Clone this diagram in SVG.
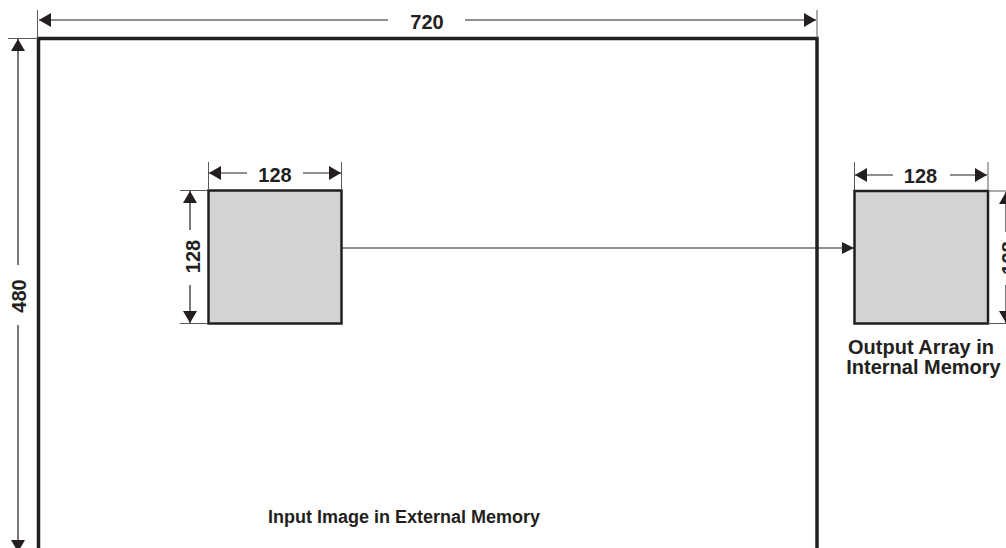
<svg xmlns="http://www.w3.org/2000/svg" width="1006" height="548" viewBox="0 0 1006 548">
<style>
.t{font-family:"Liberation Sans",Arial,sans-serif;font-weight:bold;font-size:20px;fill:#231f20}
.dim{stroke:#231f20;stroke-width:1.2;fill:none}
.ext{stroke:#58595b;stroke-width:1;fill:none}
.ah{fill:#231f20}
.box{fill:#d1d3d4;stroke:#231f20;stroke-width:2.5}
</style>
<defs>
<marker id="dimA" viewBox="0 0 12 14" refX="12" refY="7" markerWidth="12" markerHeight="14" markerUnits="userSpaceOnUse" orient="auto"><path d="M0,0 L12,7 L0,14 Z" class="ah"/></marker>
<marker id="conA" viewBox="0 0 12 12" refX="12" refY="6" markerWidth="12" markerHeight="12" markerUnits="userSpaceOnUse" orient="auto"><path d="M0,0 L12,6 L0,12 Z" class="ah"/></marker>
</defs>
<g id="input-image">
<rect x="38.5" y="38.5" width="778.5" height="530" fill="#fff" stroke="#231f20" stroke-width="3.5"/>
<text class="t" x="268" y="523" style="font-size:18px">Input Image in External Memory</text>
</g>
<g id="dim-720">
<line class="ext" x1="37.5" y1="10" x2="37.5" y2="38"/>
<line class="ext" x1="817" y1="10" x2="817" y2="38"/>
<line class="dim" x1="388" y1="20" x2="39" y2="20" marker-end="url(#dimA)"/>
<line class="dim" x1="465" y1="20" x2="816" y2="20" marker-end="url(#dimA)"/>
<text class="t" x="427" y="28.5" text-anchor="middle">720</text>
</g>
<g id="dim-480">
<line class="ext" x1="8" y1="38.5" x2="38" y2="38.5"/>
<line class="dim" x1="18" y1="265" x2="18" y2="39" marker-end="url(#dimA)"/>
<line class="dim" x1="18" y1="325" x2="18" y2="552" marker-end="url(#dimA)"/>
<text class="t" transform="translate(25.5,296) rotate(-90)" text-anchor="middle">480</text>
</g>
<g id="input-block">
<rect class="box" x="208.5" y="190.5" width="133" height="133"/>
<line class="ext" x1="208.5" y1="162" x2="208.5" y2="190"/>
<line class="ext" x1="341.5" y1="162" x2="341.5" y2="190"/>
<line class="dim" x1="247" y1="173" x2="209" y2="173" marker-end="url(#dimA)"/>
<line class="dim" x1="303" y1="173" x2="341" y2="173" marker-end="url(#dimA)"/>
<text class="t" x="275" y="181.5" text-anchor="middle">128</text>
<line class="ext" x1="180" y1="190.5" x2="208" y2="190.5"/>
<line class="ext" x1="180" y1="323.5" x2="208" y2="323.5"/>
<line class="dim" x1="190" y1="230" x2="190" y2="191" marker-end="url(#dimA)"/>
<line class="dim" x1="190" y1="285" x2="190" y2="323" marker-end="url(#dimA)"/>
<text class="t" transform="translate(200,256.5) rotate(-90)" text-anchor="middle">128</text>
</g>
<g id="output-array">
<rect class="box" x="854.5" y="191" width="133.5" height="132.5"/>
<line class="ext" x1="854.5" y1="162" x2="854.5" y2="190"/>
<line class="ext" x1="988" y1="162" x2="988" y2="190"/>
<line class="dim" x1="893" y1="175" x2="855" y2="175" marker-end="url(#dimA)"/>
<line class="dim" x1="950" y1="175" x2="987" y2="175" marker-end="url(#dimA)"/>
<text class="t" x="920.5" y="182.5" text-anchor="middle">128</text>
<line class="ext" x1="988" y1="191" x2="1006" y2="191"/>
<line class="ext" x1="988" y1="323.5" x2="1006" y2="323.5"/>
<line class="dim" x1="1006" y1="232" x2="1006" y2="192" marker-end="url(#dimA)"/>
<line class="dim" x1="1006" y1="285" x2="1006" y2="323" marker-end="url(#dimA)"/>
<text class="t" transform="translate(1016,258) rotate(-90)" text-anchor="middle">128</text>
<text class="t" x="921" y="354" text-anchor="middle">Output Array in</text>
<text class="t" x="923.5" y="374" text-anchor="middle">Internal Memory</text>
</g>
<g id="connectors">
<line class="dim" x1="342" y1="248" x2="854" y2="248" marker-end="url(#conA)"/>
</g>
</svg>
